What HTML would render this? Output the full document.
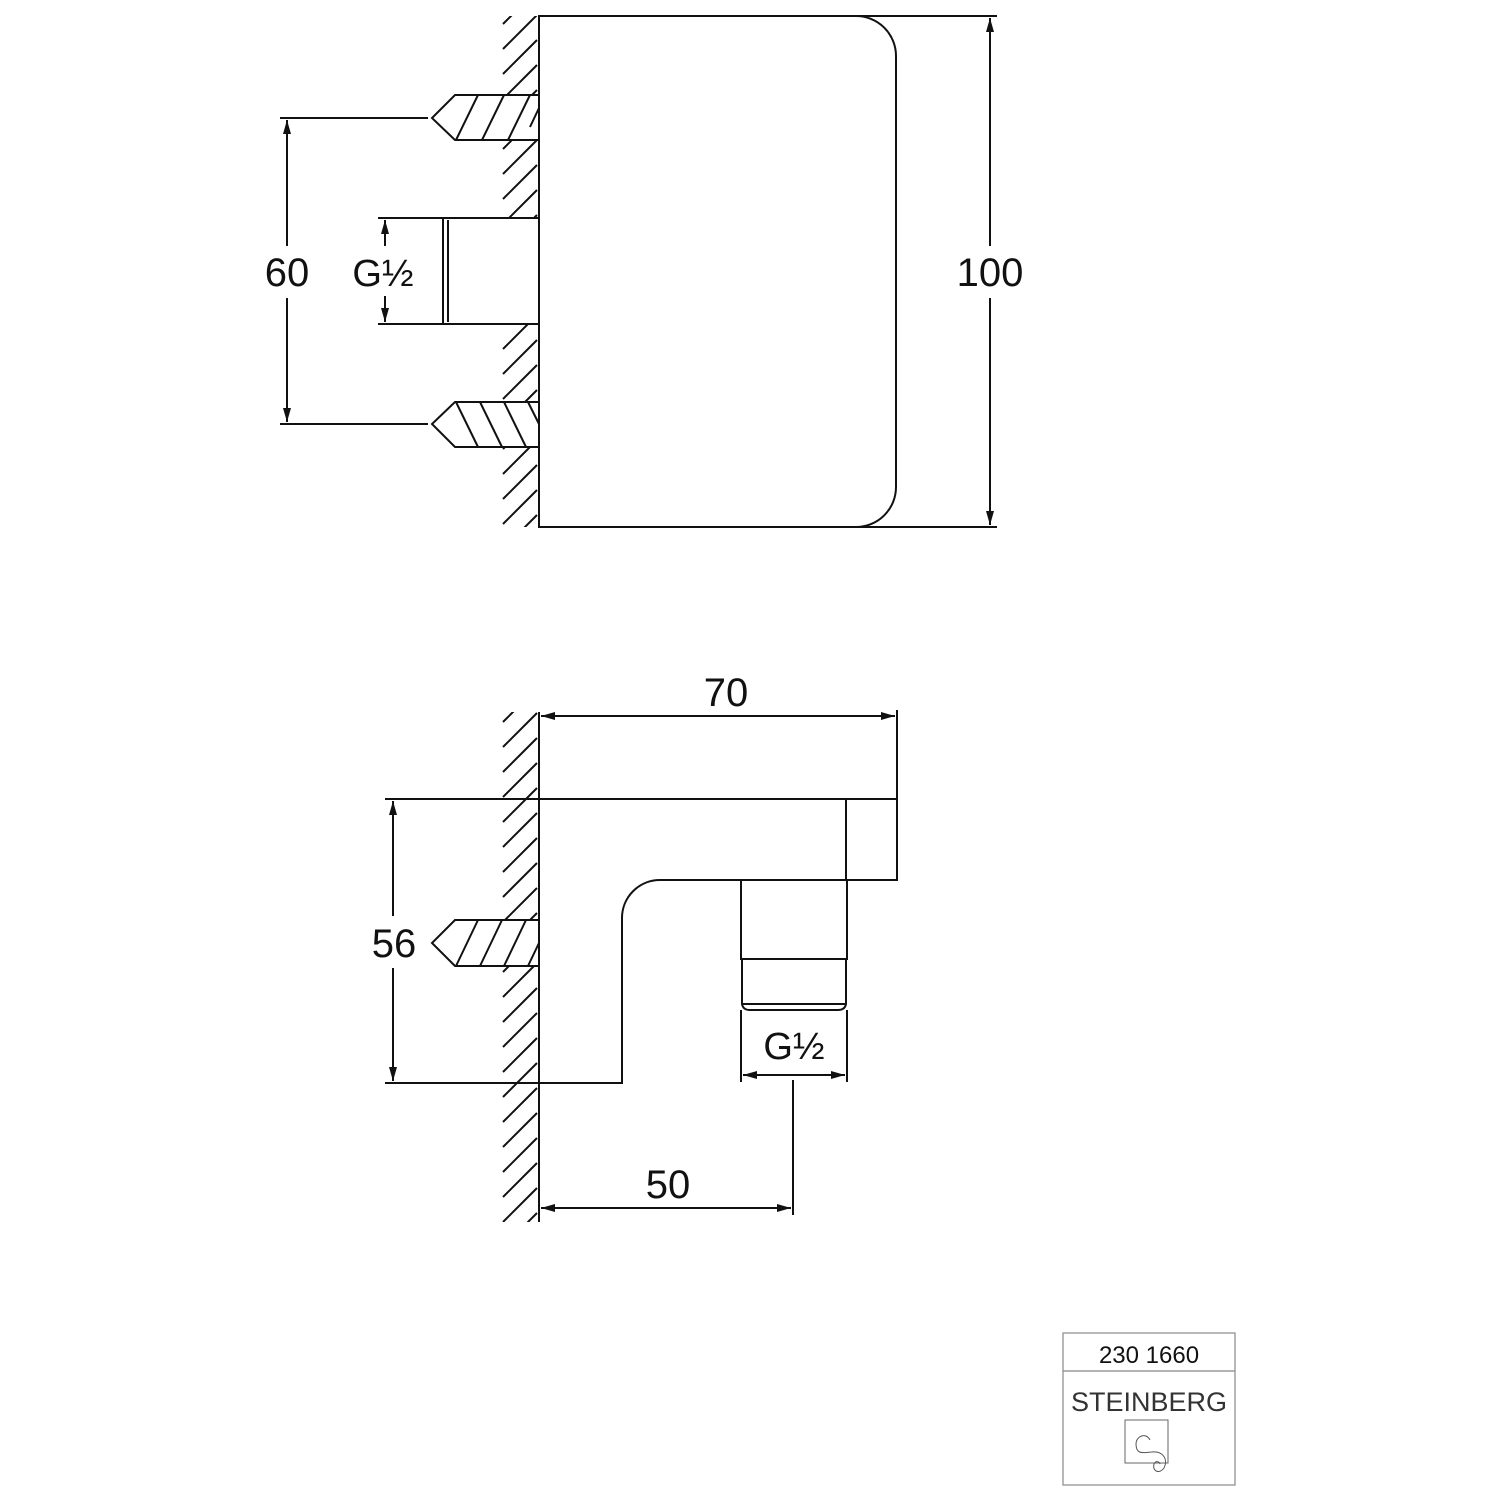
<!DOCTYPE html>
<html><head><meta charset="utf-8"><style>
html,body{margin:0;padding:0;background:#fff}
svg{display:block}
text{font-family:"Liberation Sans",sans-serif;fill:#111}
</style></head><body>
<svg id="s" width="1500" height="1500" viewBox="0 0 1500 1500" xmlns="http://www.w3.org/2000/svg">
<defs>
<marker id="a" viewBox="0 0 14 8" refX="14" refY="4" markerWidth="14" markerHeight="8" markerUnits="userSpaceOnUse" orient="auto-start-reverse"><path d="M0,0 L14,4 L0,8 Z" fill="#111"/></marker>
<clipPath id="c1"><rect x="500" y="16" width="38" height="511"/></clipPath>
<clipPath id="c2"><rect x="500" y="712" width="38" height="510"/></clipPath>
</defs>
<g id="h1" stroke="#111" stroke-width="2" clip-path="url(#c1)"></g>
<g id="h2" stroke="#111" stroke-width="2" clip-path="url(#c2)"></g>
<g stroke="#111" stroke-width="2" fill="none">
<!-- TOP VIEW -->
<path d="M539,16 H856 A40,40 0 0 1 896,56 V487 A40,40 0 0 1 856,527 H539 Z" fill="#fff"/>
<line x1="856" y1="16" x2="997" y2="16"/>
<line x1="856" y1="527" x2="997" y2="527"/>
<line x1="990" y1="18" x2="990" y2="246" marker-start="url(#a)"/>
<line x1="990" y1="298" x2="990" y2="525" marker-end="url(#a)"/>
<polygon points="539,95 455,95 432,118 455,140 539,140" fill="#fff"/>
<line x1="456" y1="140" x2="478" y2="95"/><line x1="482" y1="140" x2="504" y2="95"/><line x1="508" y1="140" x2="530" y2="95"/><line x1="530" y1="127" x2="539" y2="108"/>
<polygon points="539,402 455,402 432,424 455,447 539,447" fill="#fff"/>
<line x1="456" y1="402" x2="478" y2="447"/><line x1="480" y1="402" x2="502" y2="447"/><line x1="504" y1="402" x2="526" y2="447"/><line x1="528" y1="402" x2="539" y2="424"/>
<line x1="280" y1="118" x2="428" y2="118"/>
<line x1="280" y1="424" x2="428" y2="424"/>
<line x1="287" y1="120" x2="287" y2="246" marker-start="url(#a)"/>
<line x1="287" y1="298" x2="287" y2="422" marker-end="url(#a)"/>
<rect x="443" y="218" width="96" height="106" fill="#fff"/>
<line x1="448" y1="220" x2="448" y2="322"/>
<line x1="378" y1="218" x2="443" y2="218"/>
<line x1="378" y1="324" x2="443" y2="324"/>
<line x1="385" y1="220" x2="385" y2="246" marker-start="url(#a)"/>
<line x1="385" y1="296" x2="385" y2="322" marker-end="url(#a)"/>
<line x1="539" y1="16" x2="539" y2="527"/>
<!-- BOTTOM VIEW -->
<line x1="539" y1="712" x2="539" y2="1222"/>
<line x1="385" y1="799" x2="897" y2="799"/>
<path d="M897,799 V880 H660 A38,38 0 0 0 622,918 V1083 H385" fill="none"/>
<line x1="846" y1="799" x2="846" y2="880"/>
<line x1="897" y1="710" x2="897" y2="799"/>
<line x1="541" y1="716" x2="895" y2="716" marker-start="url(#a)" marker-end="url(#a)"/>
<line x1="393" y1="801" x2="393" y2="916" marker-start="url(#a)"/>
<line x1="393" y1="968" x2="393" y2="1081" marker-end="url(#a)"/>
<polygon points="539,920 455,920 432,943 455,966 539,966" fill="#fff"/>
<line x1="456" y1="966" x2="478" y2="920"/><line x1="480" y1="966" x2="502" y2="920"/><line x1="504" y1="966" x2="526" y2="920"/><line x1="528" y1="966" x2="539" y2="943"/>
<rect x="741" y="880" width="106" height="79"/>
<path d="M742,959 V1004 Q743,1010 750,1010 H838 Q845,1010 846,1004 V959"/>
<line x1="742" y1="1004" x2="846" y2="1004"/>
<line x1="741" y1="1010" x2="741" y2="1082"/>
<line x1="847" y1="1010" x2="847" y2="1082"/>
<line x1="743" y1="1075" x2="845" y2="1075" marker-start="url(#a)" marker-end="url(#a)"/>
<line x1="793" y1="1080" x2="793" y2="1215"/>
<line x1="541" y1="1208" x2="791" y2="1208" marker-start="url(#a)" marker-end="url(#a)"/>
<rect x="1063" y="1333" width="172" height="152" stroke="#888" stroke-width="1.2"/>
<line x1="1063" y1="1371" x2="1235" y2="1371" stroke="#888" stroke-width="1.2"/>
<rect x="1125" y="1420" width="43" height="43" stroke="#666" stroke-width="1"/>
<path d="M1150,1440 C1146,1432 1136,1436 1136,1444 C1136,1456 1145,1452 1152,1452 C1164,1451 1168,1460 1164,1468 C1160,1474 1152,1472 1154,1464 C1156,1460 1160,1462 1160,1464" stroke="#555" stroke-width="1"/>
</g>
<text x="990" y="286" font-size="40" text-anchor="middle">100</text>
<text x="287" y="286" font-size="40" text-anchor="middle">60</text>
<text x="383" y="286" font-size="38" text-anchor="middle">G½</text>
<text x="726" y="706" font-size="40" text-anchor="middle">70</text>
<text x="394" y="957" font-size="40" text-anchor="middle">56</text>
<text x="794" y="1059" font-size="38" text-anchor="middle">G½</text>
<text x="668" y="1198" font-size="40" text-anchor="middle">50</text>
<text x="1149" y="1363" font-size="24" text-anchor="middle">230 1660</text>
<text x="1149" y="1411" font-size="27" text-anchor="middle" style="fill:#333">STEINBERG</text>
</svg>
<script>
var ns="http://www.w3.org/2000/svg";
function hatch(id,y0,y1){var g=document.getElementById(id);for(var y=y0;y<y1+40;y+=25){var l=document.createElementNS(ns,"line");l.setAttribute("x1",537);l.setAttribute("y1",y);l.setAttribute("x2",503);l.setAttribute("y2",y+34);g.appendChild(l);}}
hatch("h1",-10,527);hatch("h2",688,1222);
</script>
</body></html>
